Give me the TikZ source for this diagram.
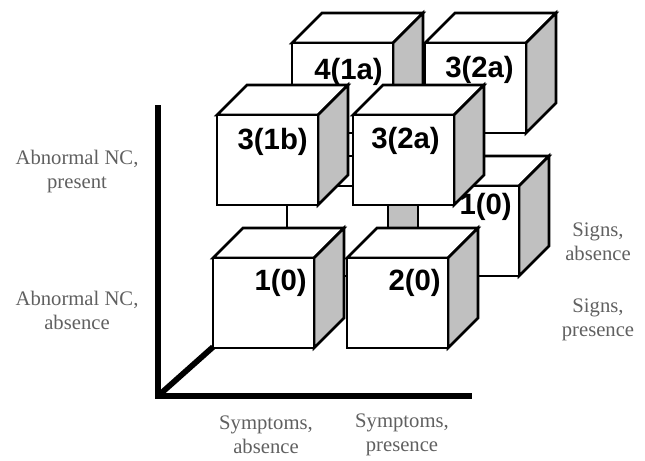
\documentclass[tikz,border=0pt]{standalone}
\usepackage{fontspec}
\setmainfont{Liberation Serif}
\newfontfamily\boxfont{Liberation Sans}
\usepackage{xcolor}
\definecolor{sidegray}{RGB}{192,192,192}
\definecolor{labelgray}{RGB}{96,96,96}

% cube: style, name, x and y of the front face's top left corner
\newcommand{\drawcube}[4][cubeline]{%
  \coordinate (#2nw) at (#3,#4);
  \coordinate (#2ne) at (#3+101,#4);
  \coordinate (#2se) at (#3+101,#4+90);
  \coordinate (#2sw) at (#3,#4+90);
  \coordinate (#2bnw) at (#3+30,#4-30);
  \coordinate (#2bne) at (#3+131,#4-30);
  \coordinate (#2bse) at (#3+131,#4+60);
  \draw [#1, fill=white] (#2nw) -- (#2bnw) -- (#2bne) -- (#2ne) -- cycle ;
  \draw [#1, fill=sidegray] (#2ne) -- (#2bne) -- (#2bse) -- (#2se) -- cycle ;
  \draw [#1, fill=white] (#2nw) rectangle (#2se) ;
}

\begin{document}
\begin{tikzpicture}[x=0.75pt,y=0.75pt,yscale=-1,xscale=1,
    cubeline/.style={line width=2pt},
    hiddenline/.style={line width=1.2pt},
    axisline/.style={line width=4.3pt},
    cubelabel/.style={anchor=east, inner sep=0pt, font=\boxfont\bfseries\fontsize{22}{24}\selectfont},
    axislabel/.style={align=center, inner sep=0pt, text=labelgray, font=\fontsize{15.5}{18}\selectfont}]
    \useasboundingbox (0,0) rectangle (645,460);

    %Axes
    \coordinate (origin) at (158,396);
    \coordinate (ytop) at (158,105);
    \coordinate (xend) at (472,396);
    \draw [axisline] (ytop) -- (origin) -- (xend) ;

    %Back cubes
    \drawcube[hiddenline]{hid}{287}{186}
    \draw [cubeline] (hidbne) -- (hidbse) ;
    \drawcube{bbr}{418}{186}
    \drawcube{btl}{292}{43}
    \drawcube{btr}{425}{43}

    %Depth axis
    \coordinate (zend) at (213,347);
    \draw [axisline] (origin) -- (zend) ;

    %Front cubes
    \drawcube{ftl}{217}{115}
    \drawcube{ftr}{353}{115}
    \drawcube{fbl}{213}{258}
    \drawcube{fbr}{347}{258}

    %Cube labels
    \node [cubelabel] (lblbtl) at (383,72) {4(1a)};
    \node [cubelabel] (lblbtr) at (514,70) {3(2a)};
    \node [cubelabel] (lblbbr) at (512,207) {1(0)};
    \node [cubelabel] (lblftl) at (308,142) {3(1b)};
    \node [cubelabel] (lblftr) at (440,141) {3(2a)};
    \node [cubelabel] (lblfbl) at (307,283) {1(0)};
    \node [cubelabel] (lblfbr) at (441,283) {2(0)};

    %Axis labels
    \node [axislabel] (ncpresent) at (77,172) {Abnormal NC,\\present};
    \node [axislabel] (ncabsence) at (77,310) {Abnormal NC,\\absence};
    \node [axislabel] (sgabsence) at (598,242) {Signs,\\absence};
    \node [axislabel] (sgpresence) at (598,320) {Signs,\\presence};
    \node [axislabel] (syabsence) at (266,435) {Symptoms,\\absence};
    \node [axislabel] (sypresence) at (402,435) {Symptoms,\\presence};

\end{tikzpicture}
\end{document}
